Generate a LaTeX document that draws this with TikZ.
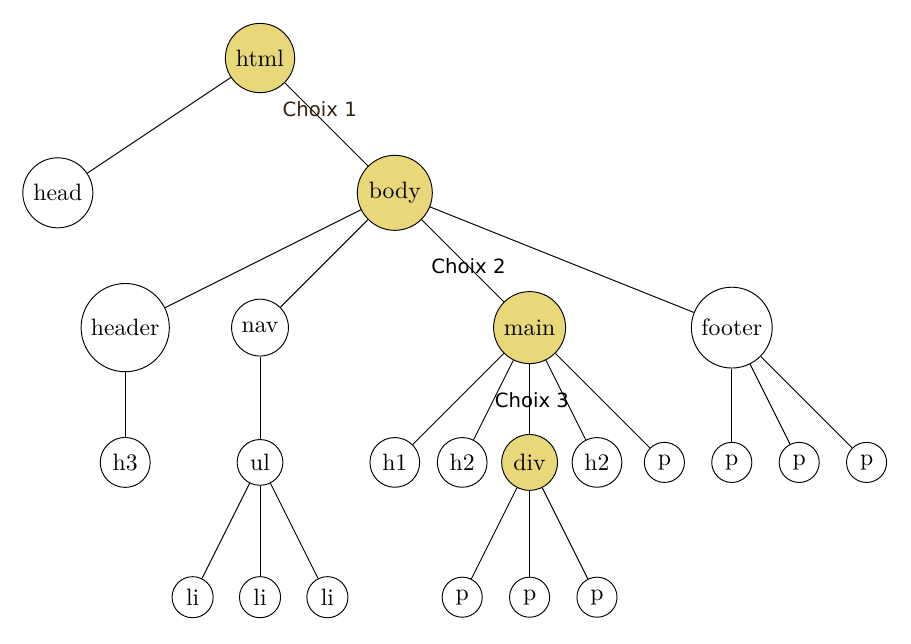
\documentclass[tikz,border=0pt]{standalone}
\usepackage{xcolor}
\usepackage{fontspec}
\newfontfamily\choixfont{DejaVu Sans}
\usepackage{tikz}
\definecolor{gold}{RGB}{232,216,122}
\definecolor{choixbrown}{RGB}{52,36,20}

\begin{document}
\begin{tikzpicture}[
  tag/.style={circle, draw=black, line width=0.4pt, inner sep=3pt, font=\normalsize},
  chosen/.style={tag, fill=gold},
  choix/.style={font=\choixfont\fontsize{8.3}{10}\selectfont, inner sep=1pt}]
\useasboundingbox (-3.858, 0.861) rectangle (9.659, -8.694);
% Root and first level
\node[chosen] (html) at (0, 0) {html};
\node[tag] (head) at (-3, -2) {head};
\node[chosen] (body) at (2, -2) {body};
% Second level
\node[tag] (header) at (-2, -4) {header};
\node[tag] (nav) at (0, -4) {nav};
\node[chosen] (main) at (4, -4) {main};
\node[tag] (footer) at (7, -4) {footer};
% Third level
\node[tag] (h3) at (-2, -6) {h3};
\node[tag] (ul) at (0, -6) {ul};
\node[tag] (h1) at (2, -6) {h1};
\node[tag] (h2a) at (3, -6) {h2};
\node[chosen] (div) at (4, -6) {div};
\node[tag] (h2b) at (5, -6) {h2};
\node[tag] (pmain) at (6, -6) {p};
\node[tag] (pfa) at (7, -6) {p};
\node[tag] (pfb) at (8, -6) {p};
\node[tag] (pfc) at (9, -6) {p};
% Fourth level
\node[tag] (lia) at (-1, -8) {li};
\node[tag] (lib) at (0, -8) {li};
\node[tag] (lic) at (1, -8) {li};
\node[tag] (pda) at (3, -8) {p};
\node[tag] (pdb) at (4, -8) {p};
\node[tag] (pdc) at (5, -8) {p};
% Edges (chosen path carries the labels)
\draw (html) -- (head);
\draw (html) -- node[choix, pos=0.42, yshift=3.8pt, text=choixbrown] {Choix 1} (body);
\draw (body) -- (header);
\draw (body) -- (nav);
\draw (body) -- node[choix, pos=0.57] {Choix 2} (main);
\draw (body) -- (footer);
\draw (header) -- (h3);
\draw (nav) -- (ul);
\draw (main) -- (h1);
\draw (main) -- (h2a);
\draw (main) -- node[choix, pos=0.51, xshift=1pt] {Choix 3} (div);
\draw (main) -- (h2b);
\draw (main) -- (pmain);
\draw (footer) -- (pfa);
\draw (footer) -- (pfb);
\draw (footer) -- (pfc);
\draw (ul) -- (lia);
\draw (ul) -- (lib);
\draw (ul) -- (lic);
\draw (div) -- (pda);
\draw (div) -- (pdb);
\draw (div) -- (pdc);
\end{tikzpicture}
\end{document}
